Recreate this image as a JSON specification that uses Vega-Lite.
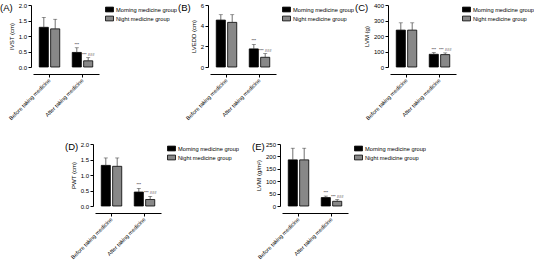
{
  "$schema": "https://vega.github.io/schema/vega-lite/v6.json",
  "background": "white",
  "padding": {"left": 0, "top": 2, "right": 0, "bottom": 0},
  "datasets": {
    "d": [
      {"panel": "A", "time": "Before taking medicine", "group": "Morning medicine group", "mean": 1.28, "upper": 1.60, "sig": ""},
      {"panel": "A", "time": "Before taking medicine", "group": "Night medicine group", "mean": 1.23, "upper": 1.54, "sig": ""},
      {"panel": "A", "time": "After taking medicine", "group": "Morning medicine group", "mean": 0.47, "upper": 0.62, "sig": "***"},
      {"panel": "A", "time": "After taking medicine", "group": "Night medicine group", "mean": 0.20, "upper": 0.30, "sig": "*** ###"},
      {"panel": "B", "time": "Before taking medicine", "group": "Morning medicine group", "mean": 4.54, "upper": 5.06, "sig": ""},
      {"panel": "B", "time": "Before taking medicine", "group": "Night medicine group", "mean": 4.32, "upper": 5.06, "sig": ""},
      {"panel": "B", "time": "After taking medicine", "group": "Morning medicine group", "mean": 1.75, "upper": 2.18, "sig": "***"},
      {"panel": "B", "time": "After taking medicine", "group": "Night medicine group", "mean": 0.94, "upper": 1.30, "sig": "*** ###"},
      {"panel": "C", "time": "Before taking medicine", "group": "Morning medicine group", "mean": 238, "upper": 285, "sig": ""},
      {"panel": "C", "time": "Before taking medicine", "group": "Night medicine group", "mean": 238, "upper": 285, "sig": ""},
      {"panel": "C", "time": "After taking medicine", "group": "Morning medicine group", "mean": 82, "upper": 93, "sig": "***"},
      {"panel": "C", "time": "After taking medicine", "group": "Night medicine group", "mean": 80, "upper": 91, "sig": "*** ###"},
      {"panel": "D", "time": "Before taking medicine", "group": "Morning medicine group", "mean": 1.31, "upper": 1.55, "sig": ""},
      {"panel": "D", "time": "Before taking medicine", "group": "Night medicine group", "mean": 1.28, "upper": 1.55, "sig": ""},
      {"panel": "D", "time": "After taking medicine", "group": "Morning medicine group", "mean": 0.45, "upper": 0.57, "sig": "***"},
      {"panel": "D", "time": "After taking medicine", "group": "Night medicine group", "mean": 0.21, "upper": 0.31, "sig": "*** ###"},
      {"panel": "E", "time": "Before taking medicine", "group": "Morning medicine group", "mean": 186, "upper": 233, "sig": ""},
      {"panel": "E", "time": "Before taking medicine", "group": "Night medicine group", "mean": 186, "upper": 233, "sig": ""},
      {"panel": "E", "time": "After taking medicine", "group": "Morning medicine group", "mean": 34, "upper": 40, "sig": "***"},
      {"panel": "E", "time": "After taking medicine", "group": "Night medicine group", "mean": 19, "upper": 26, "sig": "*** ###"}
    ],
    "empty": []
  },
  "vconcat": [
    {
      "hconcat": [
        {
          "width": 66, "height": 62,
          "title": {"text": "(A)", "dx": -33, "offset": -10},
          "data": {"name": "d"},
          "transform": [{"filter": "datum.panel === 'A'"}],
          "encoding": {
            "x": {"field": "time", "type": "nominal", "sort": ["Before taking medicine", "After taking medicine"], "scale": {"paddingInner": 0, "paddingOuter": 0}, "axis": {"title": null}},
            "xOffset": {"field": "group", "type": "nominal", "sort": ["Morning medicine group", "Night medicine group"], "scale": {"paddingInner": 0.2, "paddingOuter": 0.55}}
          },
          "layer": [
            {"mark": {"type": "bar", "stroke": "black", "strokeWidth": 0.8},
             "encoding": {
               "y": {"field": "mean", "type": "quantitative", "scale": {"domain": [0, 2], "nice": false}, "axis": {"title": "IVST (cm)", "values": [0, 0.5, 1, 1.5, 2], "format": ".1f"}},
               "fill": {"field": "group", "type": "nominal", "sort": ["Morning medicine group", "Night medicine group"], "scale": {"range": ["#000000", "#888888"]}, "legend": {"title": null}}
             }},
            {"mark": {"type": "rule", "color": "#333333", "strokeWidth": 0.7}, "encoding": {"y": {"field": "mean", "type": "quantitative", "axis": {"title": "IVST (cm)", "values": [0, 0.5, 1, 1.5, 2], "format": ".1f"}}, "y2": {"field": "upper"}}},
            {"mark": {"type": "tick", "size": 4, "thickness": 0.7, "color": "#333333"}, "encoding": {"y": {"field": "upper", "type": "quantitative", "axis": {"title": "IVST (cm)", "values": [0, 0.5, 1, 1.5, 2], "format": ".1f"}}}},
            {"mark": {"type": "text", "fontSize": 4, "baseline": "bottom", "dy": -1}, "encoding": {"y": {"field": "upper", "type": "quantitative", "axis": {"title": "IVST (cm)", "values": [0, 0.5, 1, 1.5, 2], "format": ".1f"}}, "text": {"field": "sig"}}}
          ]
        },
        {
          "width": 66, "height": 62,
          "title": {"text": "(B)", "dx": -32, "offset": -10},
          "data": {"name": "d"},
          "transform": [{"filter": "datum.panel === 'B'"}],
          "encoding": {
            "x": {"field": "time", "type": "nominal", "sort": ["Before taking medicine", "After taking medicine"], "scale": {"paddingInner": 0, "paddingOuter": 0}, "axis": {"title": null}},
            "xOffset": {"field": "group", "type": "nominal", "sort": ["Morning medicine group", "Night medicine group"], "scale": {"paddingInner": 0.2, "paddingOuter": 0.55}}
          },
          "layer": [
            {"mark": {"type": "bar", "stroke": "black", "strokeWidth": 0.8},
             "encoding": {
               "y": {"field": "mean", "type": "quantitative", "scale": {"domain": [0, 6], "nice": false}, "axis": {"title": "LVEDD (cm)", "values": [0, 2, 4, 6], "format": "d"}},
               "fill": {"field": "group", "type": "nominal", "sort": ["Morning medicine group", "Night medicine group"], "scale": {"range": ["#000000", "#888888"]}, "legend": {"title": null}}
             }},
            {"mark": {"type": "rule", "color": "#333333", "strokeWidth": 0.7}, "encoding": {"y": {"field": "mean", "type": "quantitative", "axis": {"title": "LVEDD (cm)", "values": [0, 2, 4, 6], "format": "d"}}, "y2": {"field": "upper"}}},
            {"mark": {"type": "tick", "size": 4, "thickness": 0.7, "color": "#333333"}, "encoding": {"y": {"field": "upper", "type": "quantitative", "axis": {"title": "LVEDD (cm)", "values": [0, 2, 4, 6], "format": "d"}}}},
            {"mark": {"type": "text", "fontSize": 4, "baseline": "bottom", "dy": -1}, "encoding": {"y": {"field": "upper", "type": "quantitative", "axis": {"title": "LVEDD (cm)", "values": [0, 2, 4, 6], "format": "d"}}, "text": {"field": "sig"}}}
          ]
        },
        {
          "width": 66, "height": 62,
          "title": {"text": "(C)", "dx": -35, "offset": -10},
          "data": {"name": "d"},
          "transform": [{"filter": "datum.panel === 'C'"}],
          "encoding": {
            "x": {"field": "time", "type": "nominal", "sort": ["Before taking medicine", "After taking medicine"], "scale": {"paddingInner": 0, "paddingOuter": 0}, "axis": {"title": null}},
            "xOffset": {"field": "group", "type": "nominal", "sort": ["Morning medicine group", "Night medicine group"], "scale": {"paddingInner": 0.2, "paddingOuter": 0.55}}
          },
          "layer": [
            {"mark": {"type": "bar", "stroke": "black", "strokeWidth": 0.8},
             "encoding": {
               "y": {"field": "mean", "type": "quantitative", "scale": {"domain": [0, 400], "nice": false}, "axis": {"title": "LVM (g)", "values": [0, 100, 200, 300, 400], "format": "d"}},
               "fill": {"field": "group", "type": "nominal", "sort": ["Morning medicine group", "Night medicine group"], "scale": {"range": ["#000000", "#888888"]}, "legend": {"title": null}}
             }},
            {"mark": {"type": "rule", "color": "#333333", "strokeWidth": 0.7}, "encoding": {"y": {"field": "mean", "type": "quantitative", "axis": {"title": "LVM (g)", "values": [0, 100, 200, 300, 400], "format": "d"}}, "y2": {"field": "upper"}}},
            {"mark": {"type": "tick", "size": 4, "thickness": 0.7, "color": "#333333"}, "encoding": {"y": {"field": "upper", "type": "quantitative", "axis": {"title": "LVM (g)", "values": [0, 100, 200, 300, 400], "format": "d"}}}},
            {"mark": {"type": "text", "fontSize": 4, "baseline": "bottom", "dy": -1}, "encoding": {"y": {"field": "upper", "type": "quantitative", "axis": {"title": "LVM (g)", "values": [0, 100, 200, 300, 400], "format": "d"}}, "text": {"field": "sig"}}}
          ]
        }
      ],
      "spacing": 0,
      "resolve": {"scale": {"x": "independent", "y": "independent", "fill": "independent", "xOffset": "independent"}, "legend": {"fill": "independent"}}
    },
    {
      "hconcat": [
        {
          "width": 20, "height": 10,
          "data": {"name": "empty"},
          "mark": {"type": "point"},
          "encoding": {}
        },
        {
          "width": 66, "height": 62,
          "title": {"text": "(D)", "dx": -30, "offset": -10},
          "data": {"name": "d"},
          "transform": [{"filter": "datum.panel === 'D'"}],
          "encoding": {
            "x": {"field": "time", "type": "nominal", "sort": ["Before taking medicine", "After taking medicine"], "scale": {"paddingInner": 0, "paddingOuter": 0}, "axis": {"title": null}},
            "xOffset": {"field": "group", "type": "nominal", "sort": ["Morning medicine group", "Night medicine group"], "scale": {"paddingInner": 0.2, "paddingOuter": 0.55}}
          },
          "layer": [
            {"mark": {"type": "bar", "stroke": "black", "strokeWidth": 0.8},
             "encoding": {
               "y": {"field": "mean", "type": "quantitative", "scale": {"domain": [0, 2], "nice": false}, "axis": {"title": "PWT (cm)", "values": [0, 0.5, 1, 1.5, 2], "format": ".1f"}},
               "fill": {"field": "group", "type": "nominal", "sort": ["Morning medicine group", "Night medicine group"], "scale": {"range": ["#000000", "#888888"]}, "legend": {"title": null}}
             }},
            {"mark": {"type": "rule", "color": "#333333", "strokeWidth": 0.7}, "encoding": {"y": {"field": "mean", "type": "quantitative", "axis": {"title": "PWT (cm)", "values": [0, 0.5, 1, 1.5, 2], "format": ".1f"}}, "y2": {"field": "upper"}}},
            {"mark": {"type": "tick", "size": 4, "thickness": 0.7, "color": "#333333"}, "encoding": {"y": {"field": "upper", "type": "quantitative", "axis": {"title": "PWT (cm)", "values": [0, 0.5, 1, 1.5, 2], "format": ".1f"}}}},
            {"mark": {"type": "text", "fontSize": 4, "baseline": "bottom", "dy": -1}, "encoding": {"y": {"field": "upper", "type": "quantitative", "axis": {"title": "PWT (cm)", "values": [0, 0.5, 1, 1.5, 2], "format": ".1f"}}, "text": {"field": "sig"}}}
          ]
        },
        {
          "width": 66, "height": 62,
          "title": {"text": "(E)", "dx": -30, "offset": -10},
          "data": {"name": "d"},
          "transform": [{"filter": "datum.panel === 'E'"}],
          "encoding": {
            "x": {"field": "time", "type": "nominal", "sort": ["Before taking medicine", "After taking medicine"], "scale": {"paddingInner": 0, "paddingOuter": 0}, "axis": {"title": null}},
            "xOffset": {"field": "group", "type": "nominal", "sort": ["Morning medicine group", "Night medicine group"], "scale": {"paddingInner": 0.2, "paddingOuter": 0.55}}
          },
          "layer": [
            {"mark": {"type": "bar", "stroke": "black", "strokeWidth": 0.8},
             "encoding": {
               "y": {"field": "mean", "type": "quantitative", "scale": {"domain": [0, 250], "nice": false}, "axis": {"title": "LVMI (g/m²)", "values": [0, 50, 100, 150, 200, 250], "format": "d"}},
               "fill": {"field": "group", "type": "nominal", "sort": ["Morning medicine group", "Night medicine group"], "scale": {"range": ["#000000", "#888888"]}, "legend": {"title": null}}
             }},
            {"mark": {"type": "rule", "color": "#333333", "strokeWidth": 0.7}, "encoding": {"y": {"field": "mean", "type": "quantitative", "axis": {"title": "LVMI (g/m²)", "values": [0, 50, 100, 150, 200, 250], "format": "d"}}, "y2": {"field": "upper"}}},
            {"mark": {"type": "tick", "size": 4, "thickness": 0.7, "color": "#333333"}, "encoding": {"y": {"field": "upper", "type": "quantitative", "axis": {"title": "LVMI (g/m²)", "values": [0, 50, 100, 150, 200, 250], "format": "d"}}}},
            {"mark": {"type": "text", "fontSize": 4, "baseline": "bottom", "dy": -1}, "encoding": {"y": {"field": "upper", "type": "quantitative", "axis": {"title": "LVMI (g/m²)", "values": [0, 50, 100, 150, 200, 250], "format": "d"}}, "text": {"field": "sig"}}}
          ]
        }
      ],
      "spacing": 12,
      "resolve": {"scale": {"x": "independent", "y": "independent", "fill": "independent", "xOffset": "independent"}, "legend": {"fill": "independent"}}
    }
  ],
  "spacing": 19,
  "resolve": {"scale": {"x": "independent", "y": "independent", "fill": "independent", "xOffset": "independent"}, "legend": {"fill": "independent"}},
  "config": {
    "view": {"stroke": null},
    "font": "Liberation Sans",
    "title": {"font": "Liberation Sans", "fontSize": 9.5, "fontWeight": "normal", "anchor": "start", "frame": "group", "color": "black"},
    "axis": {"domainColor": "black", "tickColor": "black", "labelColor": "black", "titleColor": "black", "labelFont": "Liberation Sans", "titleFont": "Liberation Sans", "titleFontWeight": "normal", "titleFontSize": 6, "labelFontSize": 6, "grid": false, "tickSize": 3, "domainWidth": 1, "tickWidth": 1, "labelPadding": 1.5, "titlePadding": 4},
    "axisY": {"offset": 2, "labelOverlap": false},
    "axisX": {"offset": 7, "labelAngle": -45, "labelAlign": "right", "labelBaseline": "middle", "labelFontSize": 5.5, "labelPadding": 2, "labelLimit": 200},
    "legend": {"orient": "right", "offset": 6, "padding": 0, "labelFontSize": 5.7, "labelFont": "Liberation Sans", "labelColor": "black", "symbolType": "M-1,-0.6H1V0.6H-1Z", "symbolSize": 64, "symbolStrokeColor": "black", "symbolStrokeWidth": 0.8, "rowPadding": 0, "labelOffset": 2, "labelLimit": 200}
  }
}
